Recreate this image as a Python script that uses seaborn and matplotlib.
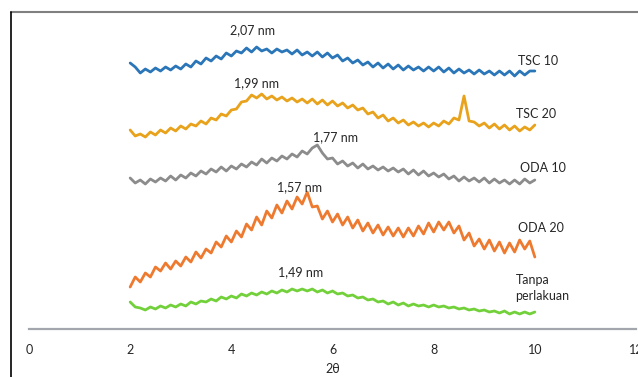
"""
XRD patterns (2-theta scan) for modified clay samples, stacked by sample.
"""

import matplotlib
matplotlib.use('Agg')
import matplotlib.pyplot as plt
from matplotlib.lines import Line2D
import pandas as pd
import seaborn as sns

# 2-theta positions of the scan
two_theta = [
    2.0, 2.1, 2.2, 2.3, 2.4, 2.5, 2.6, 2.7, 2.8, 2.9,
    3.0, 3.1, 3.2, 3.3, 3.4, 3.5, 3.6, 3.7, 3.8, 3.9,
    4.0, 4.1, 4.2, 4.3, 4.4, 4.5, 4.6, 4.7, 4.8, 4.9,
    5.0, 5.1, 5.2, 5.3, 5.4, 5.5, 5.6, 5.7, 5.8, 5.9,
    6.0, 6.1, 6.2, 6.3, 6.4, 6.5, 6.6, 6.7, 6.8, 6.9,
    7.0, 7.1, 7.2, 7.3, 7.4, 7.5, 7.6, 7.7, 7.8, 7.9,
    8.0, 8.1, 8.2, 8.3, 8.4, 8.5, 8.6, 8.7, 8.8, 8.9,
    9.0, 9.1, 9.2, 9.3, 9.4, 9.5, 9.6, 9.7, 9.8, 9.9,
    10.0,
]

# stacked intensities (arbitrary units, offset per sample)
tsc10 = [
    266, 262, 256, 260, 257, 261, 258, 262, 259, 263,
    260, 265, 262, 268, 265, 271, 268, 273, 270, 276,
    273, 278, 276, 281, 277, 282, 278, 280, 276, 280,
    277, 279, 275, 279, 274, 277, 273, 277, 272, 276,
    271, 274, 268, 271, 266, 269, 264, 267, 262, 266,
    261, 265, 260, 264, 259, 263, 259, 262, 258, 262,
    258, 262, 257, 261, 256, 260, 256, 259, 255, 259,
    255, 258, 254, 258, 254, 258, 253, 258, 254, 258,
    258,
]
tsc20 = [
    199, 193, 195, 192, 197, 194, 199, 196, 201, 198,
    203, 200, 205, 203, 208, 205, 211, 209, 215, 213,
    219, 220, 227, 228, 234, 231, 235, 230, 233, 229,
    232, 228, 231, 227, 230, 226, 230, 225, 229, 224,
    228, 223, 226, 221, 224, 219, 221, 215, 217, 211,
    214, 208, 211, 206, 209, 204, 207, 203, 206, 202,
    206, 203, 208, 205, 211, 209, 233, 208, 207, 203,
    206, 201, 205, 200, 204, 199, 203, 198, 202, 199,
    204,
]
oda10 = [
    151, 146, 149, 145, 150, 147, 151, 148, 153, 149,
    154, 151, 156, 153, 158, 155, 160, 157, 162, 158,
    163, 160, 165, 162, 167, 164, 170, 166, 171, 168,
    173, 170, 175, 172, 178, 175, 181, 184, 176, 170,
    171, 165, 168, 163, 166, 161, 165, 160, 163, 159,
    162, 158, 161, 157, 160, 155, 159, 154, 158, 153,
    156, 152, 155, 150, 153, 148, 152, 148, 151, 147,
    151, 146, 150, 146, 149, 145, 149, 145, 150, 146,
    149,
]
oda20 = [
    42, 52, 47, 56, 52, 62, 58, 66, 60, 68,
    63, 72, 67, 77, 71, 80, 76, 87, 82, 93,
    87, 98, 92, 105, 99, 112, 104, 118, 111, 124,
    116, 128, 120, 132, 125, 137, 122, 123, 110, 118,
    107, 115, 104, 112, 101, 109, 98, 106, 96, 104,
    94, 102, 93, 101, 92, 101, 93, 103, 95, 106,
    97, 107, 99, 107, 96, 103, 89, 96, 83, 90,
    80, 89, 78, 87, 76, 86, 77, 89, 80, 88,
    72,
]
tanpa = [
    27, 22, 21, 19, 22, 20, 23, 21, 24, 22,
    25, 23, 27, 25, 28, 27, 30, 28, 32, 30,
    33, 31, 35, 33, 36, 34, 37, 35, 38, 36,
    39, 37, 40, 38, 40, 38, 40, 37, 39, 36,
    38, 35, 36, 33, 34, 31, 32, 29, 30, 27,
    28, 25, 27, 24, 26, 23, 25, 23, 24, 22,
    24, 22, 23, 21, 22, 20, 21, 19, 20, 18,
    19, 17, 18, 16, 18, 15, 17, 15, 17, 15,
    17,
]

samples = ['TSC 10', 'TSC 20', 'ODA 10', 'ODA 20', 'Tanpa\nperlakuan']
series = [tsc10, tsc20, oda10, oda20, tanpa]
colors = ['#2a76b8', '#e8a21c', '#8c8c8c', '#ee7a30', '#72d13a']

# basal spacing labels and where they sit (2-theta, intensity)
d_labels = ['2,07 nm', '1,99 nm', '1,77 nm', '1,57 nm', '1,49 nm']
d_pos = [(4.41, 299), (4.49, 246), (6.07, 192), (5.34, 142), (5.36, 57)]
name_pos = [(9.66, 268), (9.62, 215), (9.70, 161), (9.66, 101), (9.62, 41)]

sns.set_theme(style='white')
plt.rcParams['font.family'] = ['Lato', 'DejaVu Sans']

df = pd.concat([
    pd.DataFrame({'2theta': two_theta, 'intensity': vals, 'sample': name})
    for name, vals in zip(samples, series)
])

fig = plt.figure(figsize=(6.38, 3.77), dpi=100)
ax = fig.add_axes([29 / 638, 48 / 377, 607 / 638, 317 / 377])

sns.lineplot(data=df, x='2theta', y='intensity', hue='sample',
             palette=dict(zip(samples, colors)), estimator=None,
             linewidth=2.0, legend=False, ax=ax)

for txt, (x, y) in zip(d_labels, d_pos):
    ax.text(x, y, txt, ha='center', va='center', fontsize=9, color='#262626')
for txt, (x, y) in zip(samples, name_pos):
    ax.text(x, y, txt, ha='left', va='center', fontsize=9, color='#262626',
            linespacing=1.4)

ax.set_xlim(0, 12)
ax.set_ylim(0, 317)
ax.set_xticks(range(0, 13, 2))
ax.set_yticks([])
ax.set_ylabel('')
ax.set_xlabel('2θ', fontsize=9, labelpad=5, color='#262626')
for side in ['left', 'top', 'right']:
    ax.spines[side].set_visible(False)
ax.spines['bottom'].set_color('#a3a6ad')
ax.spines['bottom'].set_linewidth(1.6)
ax.tick_params(axis='x', direction='inout', length=6, width=1.2,
               color='#a3a6ad', labelsize=9, labelcolor='#262626', pad=8)

# chart-area border (cropped)
fig.add_artist(Line2D([11 / 638, 1], [1 - 12 / 377, 1 - 12 / 377],
                      color='#808080', linewidth=1.5))
fig.add_artist(Line2D([11 / 638, 11 / 638], [0, 1 - 12 / 377],
                      color='#000000', linewidth=1.2))

fig.savefig('out.png', dpi=100)
